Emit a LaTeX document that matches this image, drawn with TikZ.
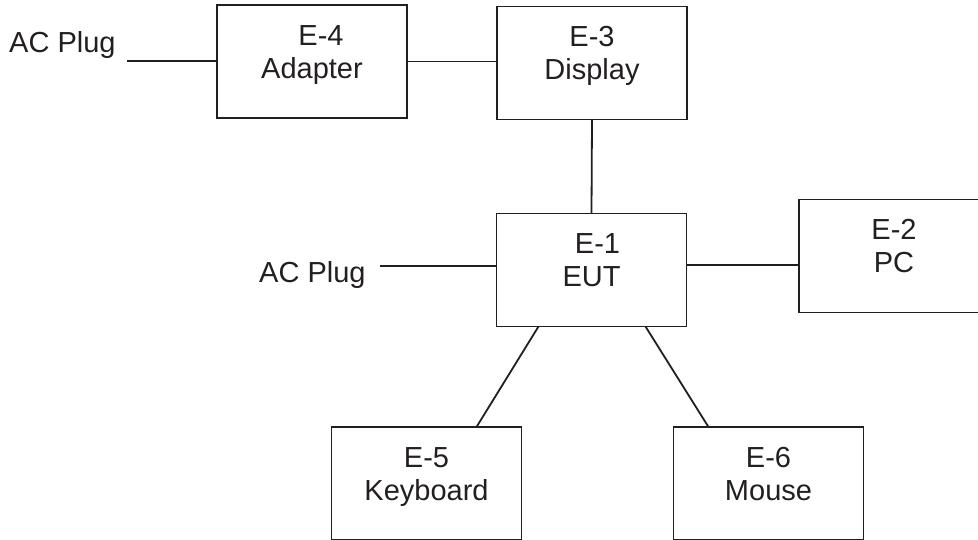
\documentclass[tikz,border=0pt]{standalone}
\usepackage{fontspec}
\setmainfont{Liberation Sans}
\usetikzlibrary{calc}
\definecolor{ink}{RGB}{35,31,32}
\begin{document}
\begin{tikzpicture}[x=1pt,y=-1pt,
  box/.style={draw=ink, line width=1.8pt, minimum width=190pt, minimum height=113pt, inner sep=0pt, outer sep=0pt},
  lbl/.style={anchor=north, align=center, inner sep=0pt, text=ink, font=\fontsize{29}{33}\selectfont},
  plug/.style={anchor=base west, inner sep=0pt, text=ink, font=\fontsize{29}{33}\selectfont},
  wire/.style={draw=ink, line width=1.8pt}]
\useasboundingbox (0,0) rectangle (978,540);
% boxes
\node[box] (e4) at (312,61.5) {};
\node[box] (e3) at (592,63) {};
\node[box] (e1) at (591.5,270) {};
\node[box] (e2) at (894,256) {};
\node[box] (e5) at (426.5,483.5) {};
\node[box] (e6) at (768.5,483.5) {};
% labels
\newcommand{\fs}{\rule{0pt}{21pt}}
\node[lbl] (t4) at ($(e4.north)+(0,19)$) {\fs\hspace*{18pt}E-4\\Adapter};
\node[lbl] (t3) at ($(e3.north)+(0,19)$) {\fs E-3\\Display};
\node[lbl] (t1) at ($(e1.north)+(0,19)$) {\fs\hspace*{12pt}E-1\\EUT};
\node[lbl] (t2) at ($(e2.north)+(0,19)$) {\fs E-2\\PC};
\node[lbl] (t5) at ($(e5.north)+(0,19)$) {\fs E-5\\Keyboard};
\node[lbl] (t6) at ($(e6.north)+(0,19)$) {\fs E-6\\Mouse};
\node[plug] (ac1) at (9,53) {AC Plug};
\node[plug] (ac2) at (259,283) {AC Plug};
% connectors
\coordinate (a1) at (127,61);
\coordinate (a2) at (380,266);
\coordinate (p1) at ([yshift=5pt]e1.east);
\coordinate (d1) at ($(e1.south west)+(42,0)$);
\coordinate (d2) at ($(e5.north west)+(145,0)$);
\coordinate (d3) at ($(e1.south west)+(149,0)$);
\coordinate (d4) at ($(e6.north west)+(35,0)$);
\draw[wire] (a1) -- (a1 -| e4.west);
\draw[wire] (e4.east) -- (e4.east -| e3.west);
\draw[wire] (e3.south) -- (e1.north);
\draw[wire] (a2) -- (a2 -| e1.west);
\draw[wire] (p1) -- (p1 -| e2.west);
\draw[wire] (d1) -- (d2);
\draw[wire] (d3) -- (d4);
\end{tikzpicture}
\end{document}
